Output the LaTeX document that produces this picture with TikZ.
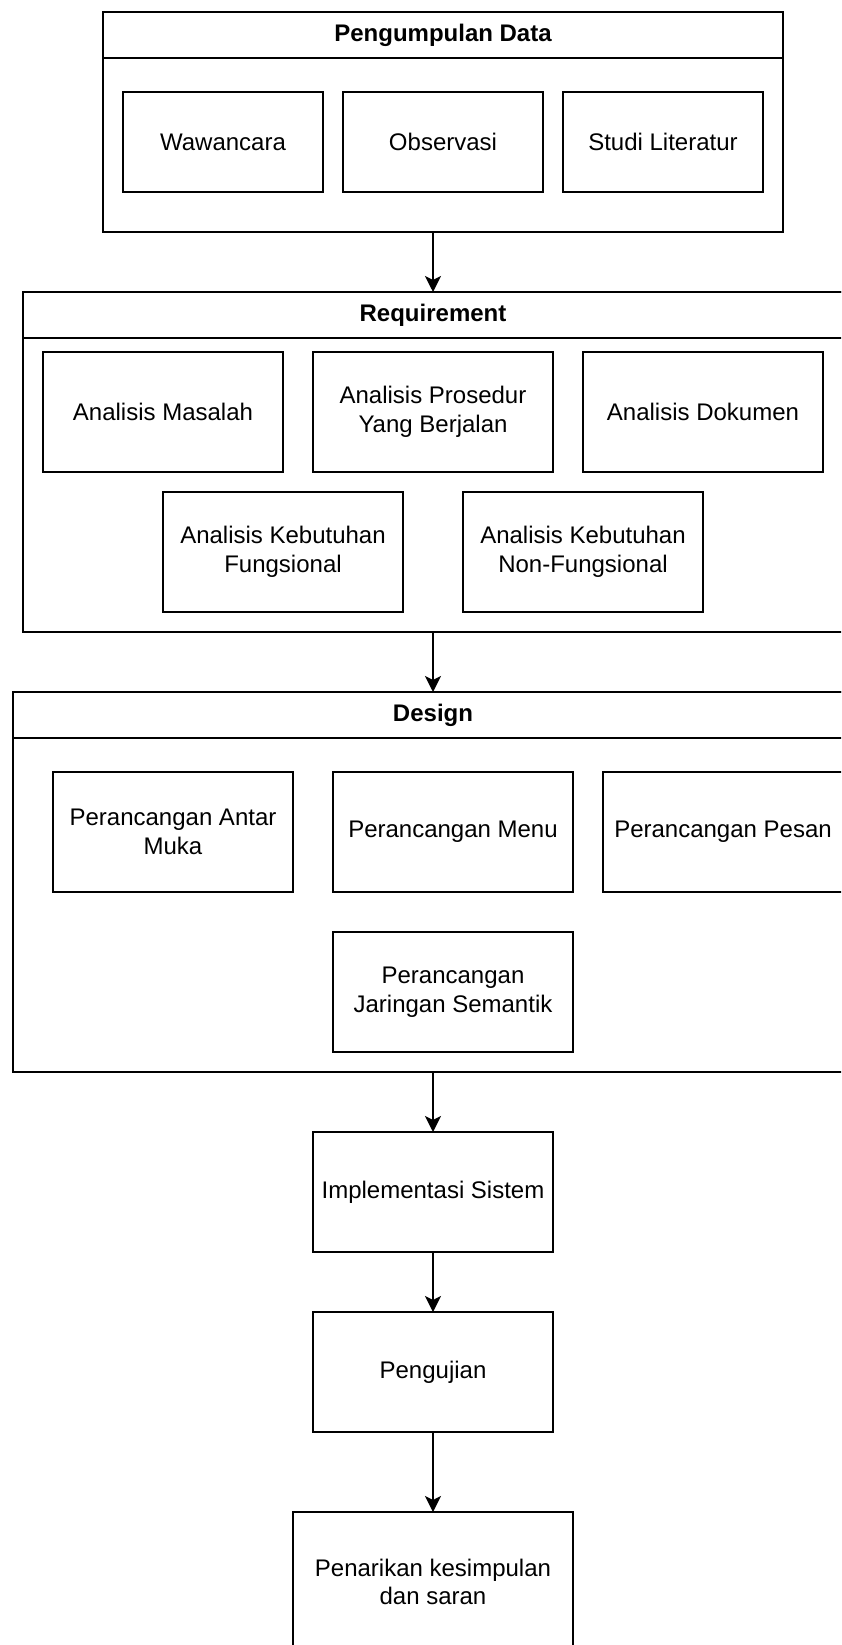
\documentclass[tikz,border=0pt]{standalone}
\usepackage{fontspec}
\setmainfont{Liberation Sans}
\usetikzlibrary{arrows.meta,positioning}

\begin{document}
\begin{tikzpicture}[
    x=1pt, y=-1pt,
    node distance=20pt,
    box/.style={rectangle, draw, line width=2pt, outer sep=0pt, align=center, inner sep=4pt, font=\fontsize{24}{28.8}\selectfont},
    item/.style={box, minimum width=240pt, minimum height=120pt},
    smallitem/.style={box, minimum width=200pt, minimum height=100pt},
    lane/.style={rectangle, draw, line width=2pt, outer sep=0pt, anchor=north west},
    lanetitle/.style={box, anchor=north, minimum height=46pt, font=\fontsize{24}{28.8}\selectfont\bfseries},
    arrow/.style={-{Stealth[length=16pt, width=16pt, inset=4pt]}, line width=2pt}
]
    \useasboundingbox (0,0) rectangle (841,1645);
    \clip (0,0) rectangle (841,1645);

    % Pengumpulan Data
    \node[lane, minimum width=680pt, minimum height=220pt] (data) at (103,12) {};
    \node[lanetitle, minimum width=680pt] (datatitle) at (data.north) {Pengumpulan Data};
    \node[smallitem, anchor=north west] (wawancara) at (123,92) {Wawancara};
    \node[smallitem, right=of wawancara] (observasi) {Observasi};
    \node[smallitem, right=of observasi] (studi) {Studi Literatur};

    % Requirement
    \node[lane, minimum width=820pt, minimum height=340pt] (req) at (23,292) {};
    \node[lanetitle, minimum width=820pt] (reqtitle) at (req.north) {Requirement};
    \node[item, anchor=north west] (masalah) at (43,352) {Analisis Masalah};
    \node[item, right=30pt of masalah] (prosedur) {Analisis Prosedur\\Yang Berjalan};
    \node[item, right=30pt of prosedur] (dokumen) {Analisis Dokumen};
    \node[item, anchor=north west] (fungsional) at (163,492) {Analisis Kebutuhan\\Fungsional};
    \node[item, right=60pt of fungsional] (nonfungsional) {Analisis Kebutuhan\\Non-Fungsional};

    % Design
    \node[lane, minimum width=840pt, minimum height=380pt] (design) at (13,692) {};
    \node[lanetitle, minimum width=840pt] (designtitle) at (design.north) {Design};
    \node[item, anchor=north west] (antarmuka) at (53,772) {Perancangan Antar\\Muka};
    \node[item, right=40pt of antarmuka] (menu) {Perancangan Menu};
    \node[item, right=30pt of menu] (pesan) {Perancangan Pesan};
    \node[item, below=40pt of menu] (semantik) {Perancangan\\Jaringan Semantik};

    % tahap akhir
    \node[item, anchor=north] (implementasi) at (433,1132) {Implementasi Sistem};
    \node[item, below=60pt of implementasi] (pengujian) {Pengujian};
    \node[item, minimum width=280pt, minimum height=140pt, below=80pt of pengujian] (penarikan) {Penarikan kesimpulan\\dan saran};

    \draw[arrow] (data.south -| req.north) -- (req.north);
    \draw[arrow] (req.south) -- (design.north);
    \draw[arrow] (design.south) -- (implementasi);
    \draw[arrow] (implementasi) -- (pengujian);
    \draw[arrow] (pengujian) -- (penarikan);
\end{tikzpicture}
\end{document}
